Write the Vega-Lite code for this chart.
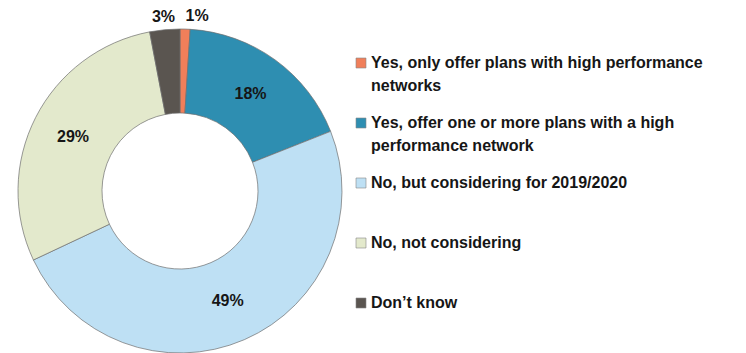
{
  "$schema": "https://vega.github.io/schema/vega-lite/v6.json",
  "width": 360,
  "height": 382,
  "padding": 0,
  "autosize": {"type": "pad"},
  "background": "white",
  "data": {
    "values": [
      {"category": "Yes, only offer plans with high performance networks", "share": 0.01, "rank": 1},
      {"category": "Yes, offer one or more plans with a high performance network", "share": 0.18, "rank": 2},
      {"category": "No, but considering for 2019/2020", "share": 0.49, "rank": 3},
      {"category": "No, not considering", "share": 0.29, "rank": 4},
      {"category": "Don’t know", "share": 0.03, "rank": 5}
    ]
  },
  "config": {
    "view": {"stroke": null},
    "font": "Liberation Sans Narrow, Arial Narrow, Liberation Sans, sans-serif"
  },
  "layer": [
    {
      "mark": {"type": "arc", "innerRadius": 78, "outerRadius": 162, "stroke": "#6f6f6f", "strokeWidth": 0.7},
      "encoding": {
        "theta": {"field": "share", "type": "quantitative", "stack": true},
        "order": {"field": "rank", "type": "quantitative"},
        "color": {
          "field": "category",
          "type": "nominal",
          "sort": null,
          "scale": {
            "domain": [
              "Yes, only offer plans with high performance networks",
              "Yes, offer one or more plans with a high performance network",
              "No, but considering for 2019/2020",
              "No, not considering",
              "Don’t know"
            ],
            "range": ["#F07F5A", "#2E8EB1", "#BEE0F4", "#E3E9CC", "#5A5550"]
          },
          "legend": {
            "title": null,
            "orient": "none",
            "legendX": 353,
            "legendY": 55,
            "symbolType": "square",
            "symbolSize": 100,
            "symbolStrokeColor": "#888888",
            "symbolStrokeWidth": 0.6,
            "labelFont": "Liberation Sans Narrow, Arial Narrow, Liberation Sans, sans-serif",
            "labelFontSize": 16,
            "labelFontWeight": "bold",
            "labelColor": "#161616",
            "labelLimit": 420,
            "labelOffset": 2,
            "rowPadding": 21,
            "labelExpr": "datum.label == 'Yes, only offer plans with high performance networks' ? ['Yes, only offer plans with high performance', 'networks'] : datum.label == 'Yes, offer one or more plans with a high performance network' ? ['Yes, offer one or more plans with a high', 'performance network'] : [datum.label, ' ']",
            "encode": {"labels": {"update": {"lineHeight": {"value": 23}}}}
          }
        }
      }
    },
    {
      "mark": {
        "type": "text",
        "fontSize": 16,
        "fontWeight": "bold",
        "color": "#161616",
        "align": {"expr": "datum.share < 0.02 ? 'left' : 'center'"}
      },
      "encoding": {
        "theta": {"field": "share", "type": "quantitative", "stack": true},
        "order": {"field": "rank", "type": "quantitative"},
        "radius": {"field": "share", "type": "quantitative", "scale": {"type": "linear", "domain": [0.03, 0.18], "range": [175, 120], "clamp": true, "zero": false}},
        "text": {"field": "share", "type": "quantitative", "format": ".0%"},
        "detail": {"field": "category"}
      }
    }
  ]
}
